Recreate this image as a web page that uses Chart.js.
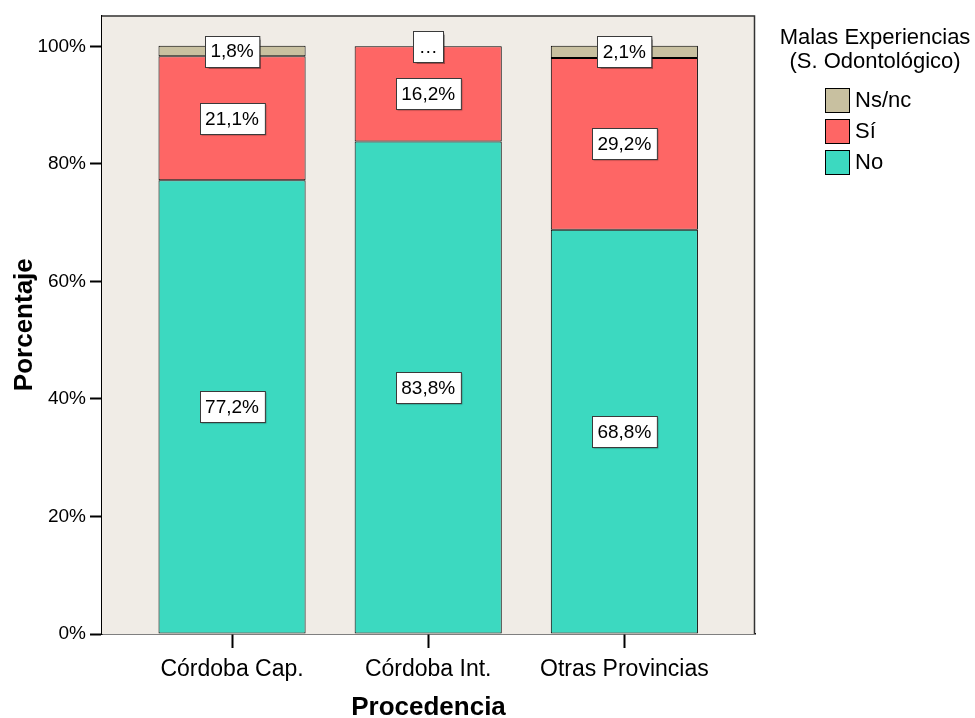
<!DOCTYPE html>
<html>
<head>
<meta charset="utf-8">
<script src="https://cdn.jsdelivr.net/npm/chart.js@4.4.1/dist/chart.umd.min.js"></script>
<style>
  body { margin: 0; background: #ffffff; }
  #wrap { width: 975px; height: 718px; }
</style>
</head>
<body>
<div id="wrap"><canvas id="myChart" width="975" height="718"></canvas></div>
<script>
// categories and percentages per group (stacked bottom to top: No, Sí, Ns/nc)
var categories = ['Córdoba Cap.', 'Córdoba Int.', 'Otras Provincias'];
var noValues = [77.2, 83.8, 68.8];
var siValues = [21.1, 16.2, 29.2];
var nsncValues = [1.8, 0, 2.1];
var yTicks = [0, 20, 40, 60, 80, 100];

var FONT = '"Liberation Sans", Arial, sans-serif';
var plotBg = '#f0ece6';

function toPoints(values) {
  return values.map(function (v, i) { return { x: i, y: v }; });
}

function pct(v) {
  return v.toFixed(1).replace('.', ',') + '%';
}

// fill the plot area and draw the frame around it
var plotFrame = {
  id: 'plotFrame',
  beforeDatasetsDraw: function (chart) {
    var a = chart.chartArea, ctx = chart.ctx;
    ctx.save();
    ctx.fillStyle = plotBg;
    ctx.fillRect(a.left, a.top, a.right - a.left, a.bottom - a.top);
    ctx.restore();
  },
  afterDraw: function (chart) {
    var a = chart.chartArea, ctx = chart.ctx;
    ctx.save();
    ctx.strokeStyle = '#333333';
    ctx.lineWidth = 1.5;
    ctx.beginPath();
    ctx.moveTo(a.left, a.top + 0.5);
    ctx.lineTo(a.right - 0.5, a.top + 0.5);
    ctx.lineTo(a.right - 0.5, a.bottom);
    ctx.stroke();
    ctx.restore();
  }
};

// value boxes in the middle of each segment
var segmentLabels = {
  id: 'segmentLabels',
  afterDatasetsDraw: function (chart) {
    var ctx = chart.ctx;
    ctx.save();
    ctx.font = '19px ' + FONT;
    ctx.textAlign = 'center';
    ctx.textBaseline = 'middle';
    chart.data.datasets.forEach(function (ds, di) {
      var meta = chart.getDatasetMeta(di);
      meta.data.forEach(function (bar, i) {
        var v = ds.data[i].y;
        var text = v < 1 ? '…' : pct(v);
        var cy = (bar.y + bar.base) / 2;
        var w = ctx.measureText(text).width + 11;
        var h = 31;
        var x0 = Math.round(bar.x - w / 2) + 0.5;
        var y0 = Math.round(cy - h / 2) + 0.5;
        // soft drop shadow under the box
        ctx.shadowColor = 'rgba(0,0,0,0.35)';
        ctx.shadowOffsetX = 1;
        ctx.shadowOffsetY = 1;
        ctx.shadowBlur = 1;
        ctx.fillStyle = '#ffffff';
        ctx.fillRect(x0, y0, w, h);
        ctx.shadowColor = 'transparent';
        ctx.strokeStyle = '#3a3a3a';
        ctx.lineWidth = 1;
        ctx.strokeRect(x0, y0, w, h);
        ctx.fillStyle = '#000000';
        ctx.fillText(text, bar.x, cy + 1);
      });
    });
    ctx.restore();
  }
};

// legend with two-line title on the right
var sideLegend = {
  id: 'sideLegend',
  afterDraw: function (chart) {
    var ctx = chart.ctx;
    var order = [2, 1, 0];
    ctx.save();
    ctx.font = '22px ' + FONT;
    ctx.fillStyle = '#000000';
    ctx.textAlign = 'center';
    ctx.textBaseline = 'middle';
    ctx.fillText('Malas Experiencias', 875, 38);
    ctx.fillText('(S. Odontológico)', 875, 62);
    ctx.textAlign = 'left';
    order.forEach(function (di, k) {
      var ds = chart.data.datasets[di];
      var top = 88 + k * 31;
      ctx.fillStyle = ds.backgroundColor;
      ctx.fillRect(825.5, top + 0.5, 24, 24);
      ctx.strokeStyle = '#000000';
      ctx.lineWidth = 1;
      ctx.strokeRect(825.5, top + 0.5, 24, 24);
      ctx.fillStyle = '#000000';
      ctx.fillText(ds.label, 855, top + 13);
    });
    ctx.restore();
  }
};

var ctx = document.getElementById('myChart').getContext('2d');
new Chart(ctx, {
  type: 'bar',
  data: {
    datasets: [
      { label: 'No', data: toPoints(noValues), backgroundColor: '#3cd9c0' },
      { label: 'Sí', data: toPoints(siValues), backgroundColor: '#fe6665' },
      { label: 'Ns/nc', data: toPoints(nsncValues), backgroundColor: '#c8c0a0' }
    ]
  },
  options: {
    responsive: false,
    animation: false,
    layout: { padding: { left: 0, top: 13, right: 220, bottom: 0 } },
    datasets: {
      bar: {
        borderColor: '#000000',
        borderWidth: 1,
        borderSkipped: false,
        barPercentage: 0.75,
        categoryPercentage: 1
      }
    },
    plugins: {
      legend: { display: false },
      tooltip: { enabled: false }
    },
    scales: {
      x: {
        type: 'linear',
        stacked: true,
        offset: false,
        min: -0.663,
        max: 2.666,
        afterBuildTicks: function (scale) {
          scale.ticks = categories.map(function (c, i) { return { value: i }; });
        },
        afterFit: function (scale) { scale.height = 84; },
        grid: {
          offset: false,
          drawOnChartArea: false,
          tickLength: 14,
          tickWidth: 2,
          tickColor: '#000000'
        },
        border: { color: '#000000', width: 1.5 },
        ticks: {
          padding: 8,
          maxRotation: 0,
          autoSkip: false,
          color: '#000000',
          font: { family: FONT, size: 23 },
          callback: function (v) { return categories[v]; }
        },
        title: {
          display: true,
          text: 'Procedencia',
          color: '#000000',
          padding: { top: 0, bottom: 0 },
          font: { family: FONT, size: 26, weight: 'bold', lineHeight: 0.8 }
        }
      },
      y: {
        stacked: true,
        min: 0,
        max: 105.26,
        afterBuildTicks: function (scale) {
          scale.ticks = yTicks.map(function (v) { return { value: v }; });
        },
        afterFit: function (scale) { scale.width = 102; },
        grid: {
          drawOnChartArea: false,
          tickLength: 12,
          tickWidth: 2,
          tickColor: '#000000'
        },
        border: { color: '#000000', width: 1.5 },
        ticks: {
          padding: 4,
          color: '#000000',
          font: { family: FONT, size: 19 },
          callback: function (v) { return v + '%'; }
        },
        title: {
          display: true,
          text: 'Porcentaje',
          color: '#000000',
          padding: { top: 12, bottom: 0 },
          font: { family: FONT, size: 26, weight: 'bold', lineHeight: 1 }
        }
      }
    }
  },
  plugins: [plotFrame, segmentLabels, sideLegend]
});
</script>
</body>
</html>
